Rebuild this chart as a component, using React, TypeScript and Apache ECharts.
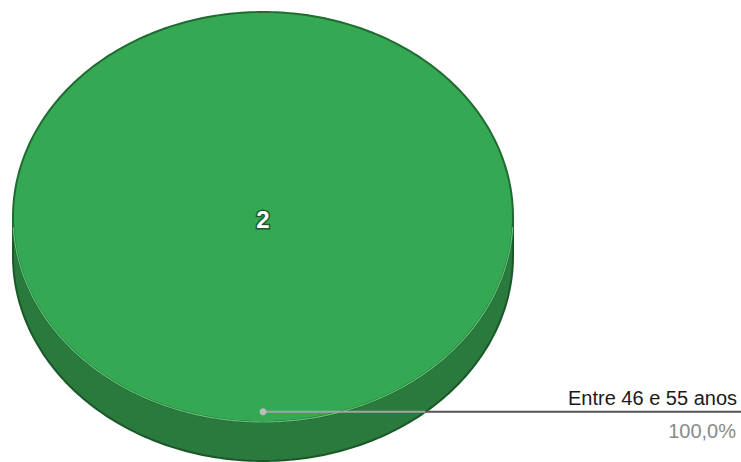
import React, { useEffect, useRef } from "react";
import * as echarts from "echarts";

const categories = ["Entre 46 e 55 anos"];
const values = [2];
const sliceColors = ["#34a853"];
const sideColors = ["#2a7a3e"];

const CX = 263;
const CY = 217;
const RX = 250;
const RY = 205;
const DEPTH = 39;

function arcPts(a0: number, a1: number, dy: number, n = 180): number[][] {
  const pts: number[][] = [];
  for (let k = 0; k <= n; k++) {
    const t = a0 + ((a1 - a0) * k) / n;
    pts.push([CX + RX * Math.cos(t), CY + dy + RY * Math.sin(t)]);
  }
  return pts;
}

export default function App() {
  const ref = useRef<HTMLDivElement>(null);
  useEffect(() => {
    const chart = echarts.init(ref.current!, null, { renderer: "svg" });
    const total = values.reduce((a, b) => a + b, 0);
    const starts: number[] = [];
    let acc = -Math.PI / 2;
    values.forEach((v) => {
      starts.push(acc);
      acc += (v / total) * Math.PI * 2;
    });

    chart.setOption({
      animation: false,
      series: [
        {
          type: "custom",
          coordinateSystem: "none",
          data: values.map((v, i) => ({ name: categories[i], value: v })),
          renderItem: (params: any, api: any) => {
            const i = params.dataIndex;
            const v = api.value(0);
            const share = v / total;
            const a0 = starts[i];
            const a1 = a0 + share * Math.PI * 2;
            const children: any[] = [];

            const segs: number[][] = [];
            for (let base = -2 * Math.PI; base <= 2 * Math.PI; base += 2 * Math.PI) {
              const s = Math.max(a0, base + 0);
              const e = Math.min(a1, base + Math.PI);
              if (e > s) segs.push([s, e]);
            }
            segs.forEach(([s, e]) => {
              const top = arcPts(s, e, 0);
              const bot = arcPts(s, e, DEPTH).reverse();
              children.push({
                type: "polygon",
                shape: { points: top.concat(bot) },
                style: { fill: sideColors[i], stroke: "#1a5828", lineWidth: 2 },
              });
            });

            const topPts =
              share >= 0.9999 ? arcPts(a0, a1, 0, 360) : [[CX, CY]].concat(arcPts(a0, a1, 0, 360));
            children.push({
              type: "polygon",
              shape: { points: topPts },
              style: { fill: sliceColors[i], stroke: "#1f6b31", lineWidth: 2 },
            });
            children.push({
              type: "polyline",
              shape: { points: arcPts(0.05, Math.PI - 0.05, 0, 180) },
              style: { stroke: "#63c27a", lineWidth: 1.2, fill: null },
            });

            const mid = (a0 + a1) / 2;
            const lr = 0.0;
            children.push({
              type: "text",
              x: CX + RX * lr * Math.cos(mid),
              y: CY + 2 + RY * lr * Math.sin(mid),
              style: {
                text: String(v),
                fill: "#ffffff",
                font: "bold 24px 'Liberation Sans', Arial, sans-serif",
                align: "center",
                verticalAlign: "middle",
                stroke: "#1d5a2b",
                lineWidth: 3,
              },
            });

            const k = 0.95;
            const px = CX + RX * k * Math.cos(mid);
            const py = CY + RY * k * Math.sin(mid);
            const edgeX = CX + RX * Math.sqrt(Math.max(0, 1 - ((py - CY - DEPTH) / RY) ** 2));
            children.push({
              type: "line",
              shape: { x1: px, y1: py, x2: edgeX, y2: py },
              style: { stroke: "#a3a3a3", lineWidth: 2 },
            });
            children.push({
              type: "line",
              shape: { x1: edgeX, y1: py, x2: 741, y2: py },
              style: { stroke: "#555555", lineWidth: 2 },
            });
            children.push({
              type: "circle",
              shape: { cx: px, cy: py, r: 3.5 },
              style: { fill: "#bdbdbd" },
            });
            children.push({
              type: "text",
              x: 737,
              y: py - 14,
              style: {
                text: categories[i],
                fill: "#1a1a1a",
                font: "20px 'Liberation Sans', Arial, sans-serif",
                align: "right",
                verticalAlign: "middle",
              },
            });
            children.push({
              type: "text",
              x: 736,
              y: py + 19,
              style: {
                text: (share * 100).toFixed(1).replace(".", ",") + "%",
                fill: "#8a8a8a",
                font: "20px 'Liberation Sans', Arial, sans-serif",
                align: "right",
                verticalAlign: "middle",
              },
            });
            return { type: "group", children };
          },
        },
      ],
    });
    return () => chart.dispose();
  }, []);
  return (
    <div
      ref={ref}
      style={{ position: "fixed", left: 0, top: 0, width: 741, height: 462, background: "#ffffff" }}
    />
  );
}
